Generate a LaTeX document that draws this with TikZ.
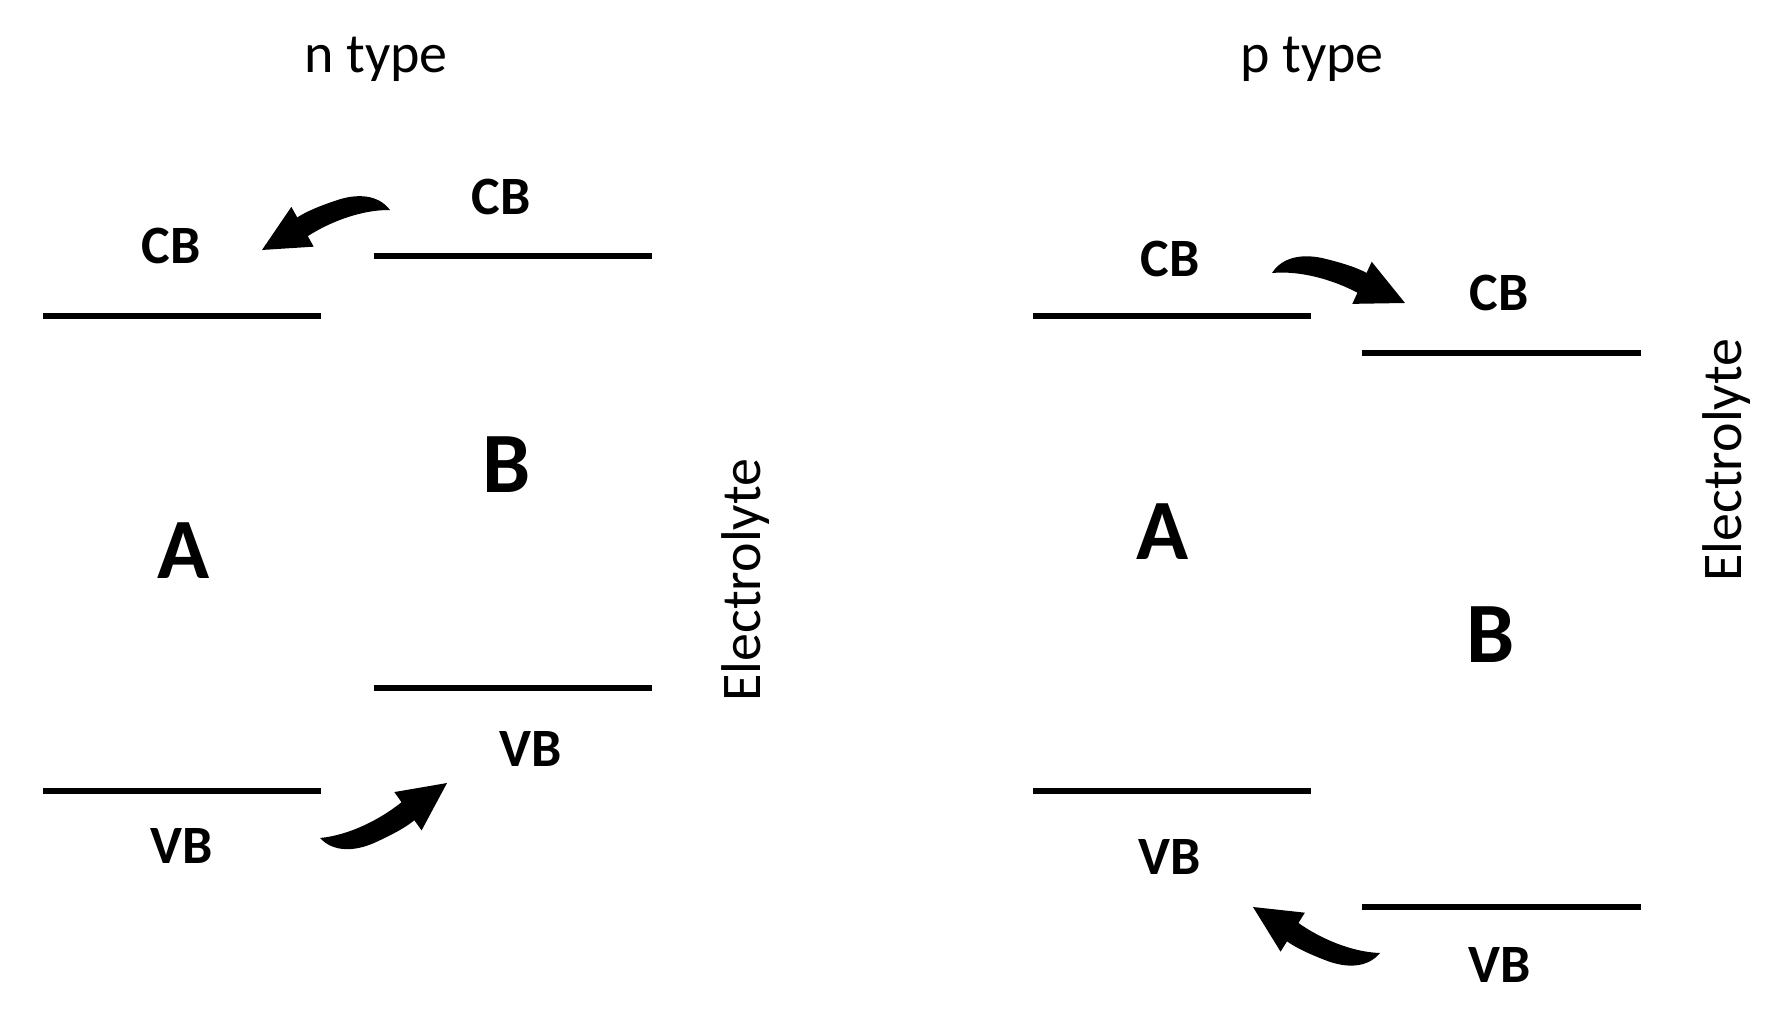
\documentclass[tikz,border=0pt]{standalone}
\usepackage{fontspec}
\setmainfont{Carlito}
\begin{document}
\begin{tikzpicture}[x=0.5pt,y=-0.5pt,
  level/.style={line width=2.9pt},
  bandlbl/.style={inner sep=0pt,font=\fontsize{27}{27}\selectfont\bfseries},
  matlbl/.style={inner sep=0pt,font=\fontsize{43}{43}\selectfont\bfseries},
  titlelbl/.style={inner sep=0pt,anchor=base,font=\fontsize{28}{28}\selectfont},
  elyte/.style={inner sep=0pt,anchor=base,rotate=90,font=\fontsize{28}{28}\selectfont},
  bandarrow/.pic={\fill (0,0) .. controls (0.05,0.14) and (0.2,0.19) .. (0.35,0.188)
     .. controls (0.5,0.185) and (0.6,0.175) .. (0.6766,0.1532) -- (0.6954,0.2413) -- (1,0)
     -- (0.6246,-0.0913) -- (0.6434,-0.0032) .. controls (0.45,0.05) and (0.2,0.065) .. (0,0) -- cycle;}]
\useasboundingbox (0,0) rectangle (1787,1027);

% ---------- n type ----------
\node[titlelbl] (ntitle) at (376,73) {n type};
\draw[level] (43,316) coordinate (nAcbL) -- (321,316) coordinate (nAcbR);
\draw[level] (374,256) coordinate (nBcbL) -- (652,256) coordinate (nBcbR);
\draw[level] (43,791) coordinate (nAvbL) -- (321,791) coordinate (nAvbR);
\draw[level] (374,688) coordinate (nBvbL) -- (652,688) coordinate (nBvbR);
\node[bandlbl] (nAcb) at (171,246) {CB};
\node[bandlbl] (nBcb) at (501,197) {CB};
\node[bandlbl] (nAvb) at (182,846) {VB};
\node[bandlbl] (nBvb) at (531,749) {VB};
\node[matlbl] (nA) at (184,551) {A};
\node[matlbl] (nB) at (507,465) {B};
\node[elyte] (nEl) at (760,580) {Electrolyte};
\pic (arr1) [rotate=197.35,scale=134.1] at (390,210) {bandarrow};
\pic (arr2) [rotate=23.41,scale=138.4] at (320,838) {bandarrow};

% ---------- p type ----------
\node[titlelbl] (ptitle) at (1312,73) {p type};
\draw[level] (1033,316) coordinate (pAcbL) -- (1311,316) coordinate (pAcbR);
\draw[level] (1362,353) coordinate (pBcbL) -- (1641,353) coordinate (pBcbR);
\draw[level] (1033,791) coordinate (pAvbL) -- (1311,791) coordinate (pAvbR);
\draw[level] (1362,907) coordinate (pBvbL) -- (1641,907) coordinate (pBvbR);
\node[bandlbl] (pAcb) at (1170,259) {CB};
\node[bandlbl] (pBcb) at (1499,293) {CB};
\node[bandlbl] (pAvb) at (1170,857) {VB};
\node[bandlbl] (pBvb) at (1500,965) {VB};
\node[matlbl] (pA) at (1163,532) {A};
\node[matlbl] (pB) at (1491,635) {B};
\node[elyte] (pEl) at (1741,460) {Electrolyte};
\pic (arr3) [rotate=-12.71,scale=136.3,yscale=-1] at (1272,273) {bandarrow};
\pic (arr4) [rotate=160.09,scale=135.1,yscale=-1] at (1380,953) {bandarrow};
\end{tikzpicture}
\end{document}
